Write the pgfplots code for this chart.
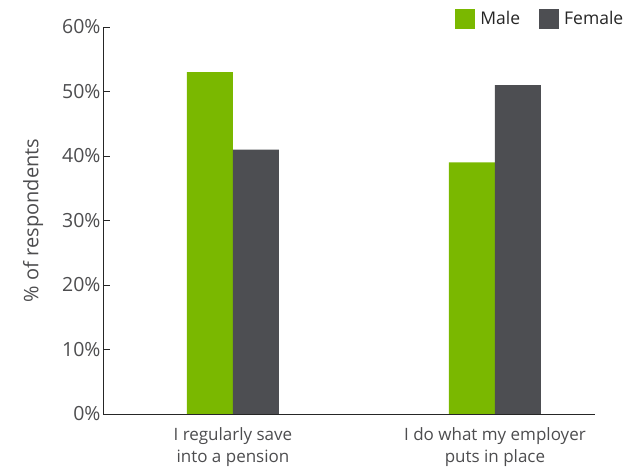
\documentclass[border=0pt]{standalone}
\usepackage{pgfplots}
\pgfplotsset{compat=1.18}
\usepackage{fontspec}
\setmainfont{Open Sans}
\definecolor{mgreen}{HTML}{7AB800}
\definecolor{fgray}{HTML}{4D4E52}
\definecolor{txt}{HTML}{4D4D4F}
\begin{document}
\begin{tikzpicture}
\path (0,0) rectangle (644bp,470bp);
\begin{axis}[
  at={(103bp,56bp)}, anchor=south west,
  scale only axis, width=492bp, height=387bp,
  ybar=0pt, bar width=46bp,
  xmin=-0.496, xmax=1.382, ymin=0, ymax=60,
  xtick={0,1},
  xticklabels={I regularly save\\into a pension, I do what my employer\\puts in place},
  xticklabel style={align=center, font=\fontsize{17bp}{22bp}\selectfont, text=txt, yshift=-10bp},
  ytick={0,10,20,30,40,50,60},
  yticklabel={\pgfmathprintnumber{\tick}\%},
  yticklabel style={font=\fontsize{19.5bp}{22bp}\selectfont, text=txt, xshift=1bp},
  /pgf/number format/assume math mode=true,
  axis x line*=bottom, axis y line*=left,
  axis line style={draw=black!85, line width=0.9bp},
  x axis line style={-}, y axis line style={-},
  xtick style={draw=none},
  ytick style={draw=black!85, line width=0.9bp},
  tick align=inside, major tick length=7bp,
  ylabel={\% of respondents},
  ylabel style={at={(axis description cs:-0.142,0.5)}, anchor=center, font=\fontsize{20bp}{22bp}\selectfont, text=txt},
  legend columns=2,
  legend style={at={(axis description cs:1.068,1.021)}, anchor=east, draw=none, fill=none,
    font=\fontsize{17.5bp}{20bp}\selectfont, text=black!85,
    /tikz/every odd column/.append style={column sep=3bp},
    /tikz/every even column/.append style={column sep=17bp}},
  legend image code/.code={\fill[#1] (0bp,-10bp) rectangle (20bp,10bp);},
]
\addplot[fill=mgreen, draw=none] coordinates {(0,53) (1,39)};
\addplot[fill=fgray, draw=none] coordinates {(0,41) (1,51)};
\legend{Male, Female}
\end{axis}
\end{tikzpicture}
\end{document}
